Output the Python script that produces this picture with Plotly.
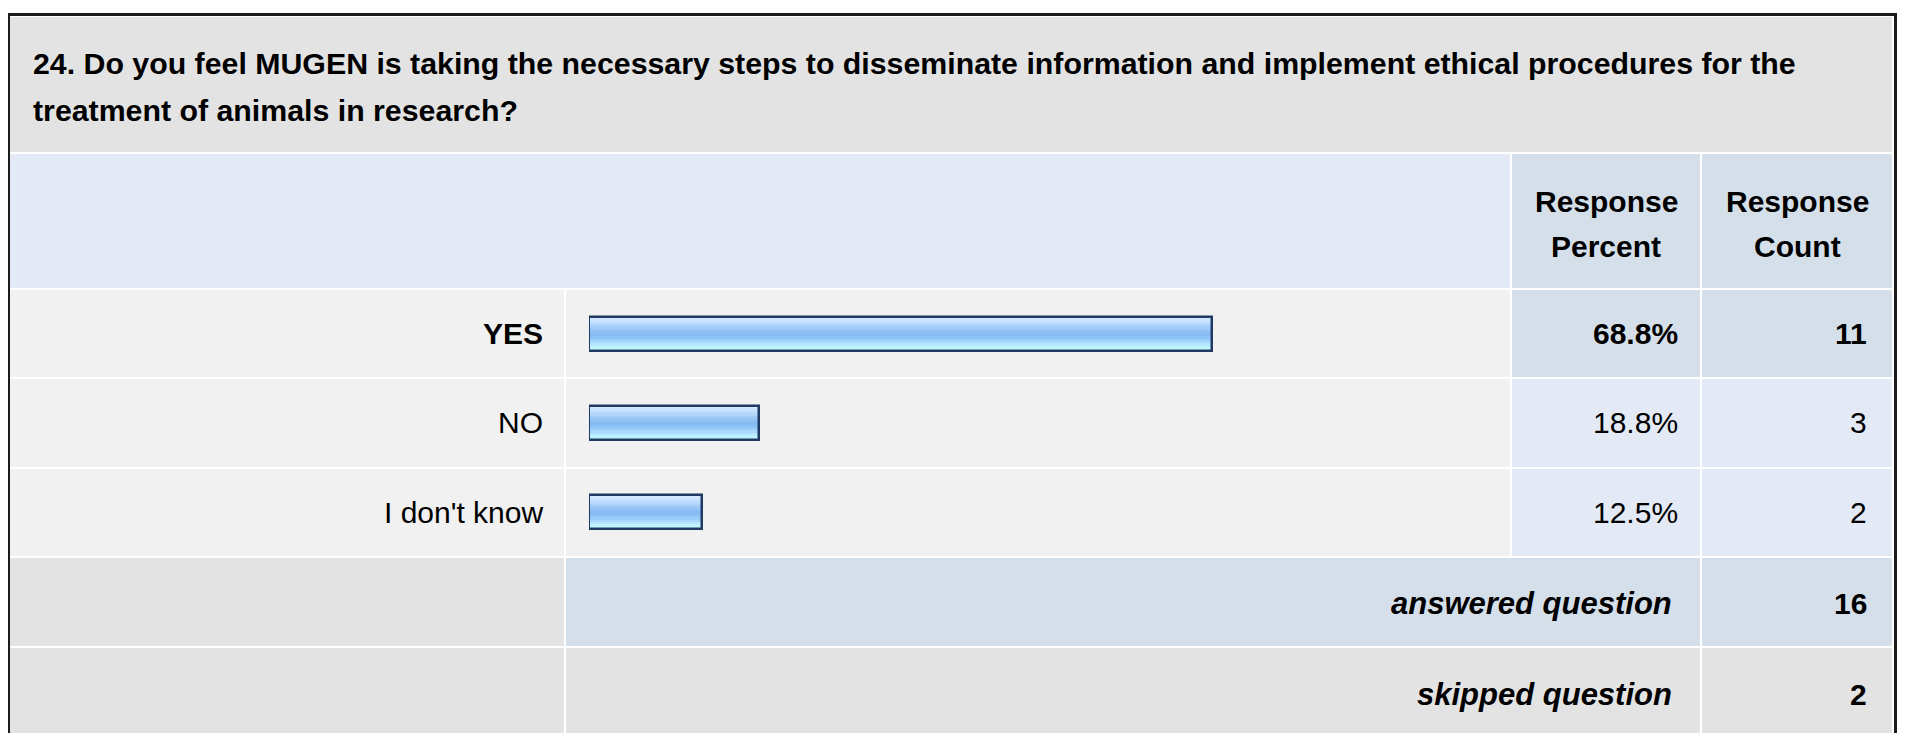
import plotly.graph_objects as go

# the page body adds an 8px margin, so the figure is drawn 8px smaller and shifted
OFF = 8
W, H = 1907 - OFF, 733 - OFF

question = [
    "24. Do you feel MUGEN is taking the necessary steps to disseminate information and implement ethical procedures for the",
    "treatment of animals in research?",
]
answers = ["YES", "NO", "I don't know"]
percents = [68.8, 18.8, 12.5]
counts = [11, 3, 2]
answered = 16
skipped = 2

FONT = "Liberation Sans, Arial, Helvetica, sans-serif"
GRAY = "#e3e3e3"
ROW = "#f1f1f1"
BLUE_LT = "#e3eaf5"
BLUE_DK = "#d5dfe9"
BAR_EDGE = "#1f3b63"
GRADIENT = ["#d6eaff", "#cae3ff", "#bedcfe", "#b1d5fb", "#a3cdf8", "#95c4f5",
            "#8abdf3", "#86bbf2", "#8ec3f5", "#9acdf9", "#a8d9fc", "#b4e6ff",
            "#bcf3ff", "#c2fcff"]


def px(x):
    return (x - OFF) / W


def py(y):
    return 1 - (y - OFF) / H


# column edges in page pixels
L0, L1 = 10, 564
B0, B1 = 566, 1510
P0, P1 = 1512, 1700
C0, C1 = 1702, 1892
data_rows = [(290, 377), (379, 467), (469, 556)]

top = max(range(len(counts)), key=lambda i: counts[i])

cells = [(L0, C1, 17, 152, GRAY),
         (L0, B1, 154, 288, BLUE_LT), (P0, P1, 154, 288, BLUE_DK), (C0, C1, 154, 288, BLUE_DK)]
for i, (y0, y1) in enumerate(data_rows):
    c = BLUE_DK if i == top else BLUE_LT
    cells += [(L0, L1, y0, y1, ROW), (B0, B1, y0, y1, ROW), (P0, P1, y0, y1, c), (C0, C1, y0, y1, c)]
cells += [(L0, L1, 558, 646, GRAY), (B0, P1, 558, 646, BLUE_DK), (C0, C1, 558, 646, BLUE_DK),
          (L0, L1, 648, 760, GRAY), (B0, P1, 648, 760, GRAY), (C0, C1, 648, 760, GRAY)]

shapes = [dict(type="rect", xref="paper", yref="paper", layer="below",
               x0=px(max(a, OFF)), x1=px(b), y0=py(d), y1=py(c), fillcolor=col, line_width=0)
          for a, b, c, d, col in cells]
shapes.append(dict(type="rect", xref="paper", yref="paper", layer="above",
                   x0=px(8.5), x1=px(1895.5), y0=py(780), y1=py(14.5),
                   line=dict(color="#1c1c1c", width=3), fillcolor="rgba(0,0,0,0)"))

fig = go.Figure()

BAR_W = 0.38
sw = BAR_W / len(GRADIENT)
for k, col in enumerate(GRADIENT):
    last = k == len(GRADIENT) - 1
    fig.add_trace(go.Bar(
        x=percents, y=answers, orientation="h",
        width=sw if last else sw * 1.5, offset=-BAR_W / 2 + k * sw,
        marker=dict(color=col, line_width=0), hoverinfo="skip", showlegend=False,
    ))
fig.add_trace(go.Bar(
    x=percents, y=answers, orientation="h", width=BAR_W, offset=-BAR_W / 2,
    marker=dict(color="rgba(0,0,0,0)", line=dict(color=BAR_EDGE, width=2.5)),
    hovertemplate="%{y}: %{x:.1f}%<extra></extra>", showlegend=False,
))

ann = []


def txt(text, x, y, anchor="right", size=30, yref="paper"):
    ann.append(dict(text=text, x=x, y=y, xref="paper", yref=yref, xanchor=anchor,
                    yanchor="middle", showarrow=False,
                    font=dict(family=FONT, size=size, color="#000000")))


txt(f"<b>{question[0]}</b>", px(31), py(64), "left", size=30.3)
txt(f"<b>{question[1]}</b>", px(31), py(111), "left", size=30.3)
txt("<b>Response</b>", px((P0 + P1) / 2), py(201), "center")
txt("<b>Percent</b>", px((P0 + P1) / 2), py(246), "center")
txt("<b>Response</b>", px((C0 + C1) / 2), py(201), "center")
txt("<b>Count</b>", px((C0 + C1) / 2), py(246), "center")

for i, (a, p, n) in enumerate(zip(answers, percents, counts)):
    b0, b1 = ("<b>", "</b>") if i == top else ("", "")
    txt(f"{b0}{a}{b1}", px(545), a, yref="y")
    txt(f"{b0}{p:.1f}%{b1}", px(1680), a, yref="y")
    txt(f"{b0}{n}{b1}", px(1869), a, yref="y")

txt("<b><i>answered question</i></b>", px(1674), py(603), size=31)
txt(f"<b>{answered}</b>", px(1869), py(603))
txt("<b><i>skipped question</i></b>", px(1674), py(694), size=31)
txt(f"<b>{skipped}</b>", px(1869), py(694))

fig.update_layout(
    width=W, height=H, margin=dict(l=0, r=0, t=0, b=0),
    paper_bgcolor="#ffffff", plot_bgcolor="rgba(0,0,0,0)",
    barmode="overlay", bargap=0,
    xaxis=dict(domain=[px(589), px(1494)], range=[0, 100], visible=False, fixedrange=True),
    yaxis=dict(domain=[py(557), py(289)], type="category", categoryorder="array",
               categoryarray=answers, range=[2.5, -0.5], visible=False, fixedrange=True),
    shapes=shapes, annotations=ann, showlegend=False,
)

fig.write_html("out.html", config=dict(displayModeBar=False))
